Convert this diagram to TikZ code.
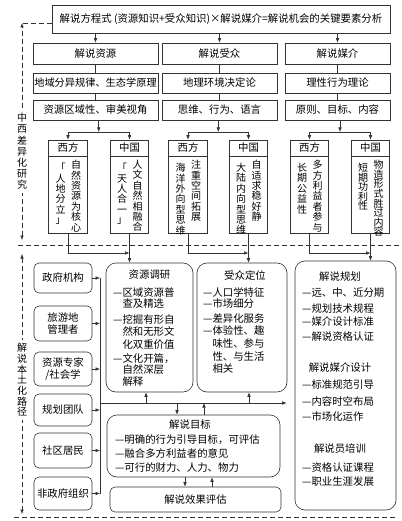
\documentclass[tikz,border=0pt]{standalone}
\usepackage{fontspec}
\setmainfont{Noto Sans CJK SC}
\usetikzlibrary{arrows.meta}
\makeatletter
\newcommand\vstk[2]{\vbox{\baselineskip=#1\relax\lineskiplimit=-20pt\lineskip=0pt\edef\vs@tmp{#2}\expandafter\vs@loop\vs@tmp\relax}}
\def\vs@loop#1{\ifx\relax#1\else\hbox to 1em{\hss#1\hss}\expandafter\vs@loop\fi}
\makeatother
\newcommand\fsz{\fontsize{10.4pt}{12.5pt}\selectfont}
\newcommand\fsl{\fontsize{10.4pt}{11.5pt}\selectfont}
\newcommand\fsv{\fontsize{10pt}{12pt}\selectfont}
\begin{document}
\begin{tikzpicture}[x=1pt,y=-1pt,
 ln/.style={draw=black!80,line width=0.6pt},
 box/.style={ln,rectangle,inner sep=0pt,font=\fsz},
 rbox/.style={box,rounded corners=10pt},
 sbox/.style={box,rounded corners=5pt},
 arr/.style={ln,-{Latex[length=4.5pt,width=3.6pt]}},
 dsh/.style={ln,dash pattern=on 5pt off 3pt},
 darr/.style={dsh,{Latex[length=4.5pt,width=3.6pt]}-{Latex[length=4.5pt,width=3.6pt]}},
 txt/.style={inner sep=0pt,font=\fsz},
 vtx/.style={inner sep=0pt,font=\fsv},
]
\fill[white] (0,0) rectangle (401,521);
\useasboundingbox (0,0) rectangle (401,521);

% top section
\node[box,minimum width=338pt,minimum height=28pt] (top) at (221,19) {解说方程式 (资源知识+受众知识)×解说媒介=解说机会的关键要素分析};

\node[box,minimum width=125pt,minimum height=21pt] (r1a) at (95.5,53.5) {解说资源};
\node[box,minimum width=115pt,minimum height=21pt] (r1b) at (219.5,53.5) {解说受众};
\node[box,minimum width=105pt,minimum height=21pt] (r1c) at (337.5,53.5) {解说媒介};
\node[box,minimum width=125pt,minimum height=20pt,font=\fontsize{10.2pt}{12pt}\selectfont] (r2a) at (95.5,83) {地域分异规律、生态学原理};
\node[box,minimum width=115pt,minimum height=20pt] (r2b) at (219.5,83) {地理环境决定论};
\node[box,minimum width=105pt,minimum height=20pt] (r2c) at (337.5,83) {理性行为理论};
\node[box,minimum width=125pt,minimum height=20pt] (r3a) at (95.5,110) {资源区域性、审美视角};
\node[box,minimum width=115pt,minimum height=20pt] (r3b) at (219.5,110) {思维、行为、语言};
\node[box,minimum width=105pt,minimum height=20pt] (r3c) at (337.5,110) {原则、目标、内容};

\foreach \c in {a,b,c}{
  \draw[arr] (top.south -| r1\c) -- (r1\c.north);
  \draw[ln] (r1\c) -- (r2\c);
  \draw[ln] (r2\c) -- (r3\c);
}

\foreach \n/\cx/\hd/\R/\L/\p in {
 1w/68/西方/自然资源为核心/「人地分立」/10.4,
 1c/129.5/中国/人文自然相融合/「天人合一」/10.4,
 2w/188/西方/注重空间拓展/海洋外向型思维/10.4,
 2c/248.5/中国/自适求稳好静/大陆内向型思维/10.4,
 3w/309.5/西方/多方利益者参与/长期公益性/10.4,
 3c/370.5/中国/物造形式胜过内容/短期功利性/9.6}{
 \node[box,minimum width=38.5pt,minimum height=16pt] (h\n) at (\cx,148) {\hd};
 \node[box,minimum width=38.5pt,minimum height=77pt] (b\n) at (\cx,194.5) {};
 \node[vtx,anchor=north] (vr\n) at (\cx+8,160) {\vstk{\p pt}{\R}};
 \node[vtx,anchor=north] (vl\n) at (\cx-7.5,163) {\vstk{\p pt}{\L}};
}

\coordinate (ja) at (98.75,132);
\coordinate (jb) at (218.25,132);
\coordinate (jc) at (340,132);
\draw[arr] (r3a.south -| ja) -- (ja);
\draw[arr] (r3b.south -| jb) -- (jb);
\draw[arr] (r3c.south -| jc) -- (jc);
\draw[ln] (h1w.north |- ja) -- (h1c.north |- ja);
\draw[ln] (h2w.north |- jb) -- (h2c.north |- jb);
\draw[ln] (h3w.north |- jc) -- (h3c.north |- jc);
\foreach \n/\j in {1w/ja,1c/ja,2w/jb,2c/jb,3w/jc,3c/jc}{
  \draw[arr] (h\n.north |- \j) -- (h\n.north);
}

% dashed frames and labels
\coordinate (tw) at ([yshift=-4pt]top.west);
\coordinate (dB) at (22,240);
\draw[dsh] (tw) -- (tw -| dB);
\draw[darr] (dB) -- (tw -| dB);
\node[vtx,fill=white,inner ysep=3pt] (lab1) at (22,151.5) {\vstk{11.2pt}{中西差异化研究}};
\coordinate (dM1) at (18,245);
\coordinate (dM2) at (401,245);
\draw[dsh] (dM1) -- (dM2);
\coordinate (dC) at (22,254);
\coordinate (dD) at (22,514);
\draw[darr] (dC) -- (dD);
\node[vtx,fill=white,inner ysep=3pt] (lab2) at (22,380) {\vstk{10.7pt}{解说本土化路径}};
\coordinate (dE) at (14,517.5);
\coordinate (dF) at (398,517.5);
\draw[dsh] (dE) -- (dF);

% bottom boxes
\node[rbox,minimum width=87pt,minimum height=129pt] (zy) at (149.5,327.5) {};
\node[rbox,minimum width=90pt,minimum height=129pt] (sz) at (242,327.5) {};
\node[rbox,minimum width=101pt,minimum height=249pt] (gh) at (345.5,385.5) {};
\node[rbox,minimum width=173pt,minimum height=62pt] (mb) at (193.5,446) {};
\node[sbox,minimum width=171pt,minimum height=25pt] (pg) at (195.5,499.5) {解说效果评估};

\node[txt] (zyt) at (149.5,275) {资源调研};
\foreach \y/\tx [count=\i] in {293/—区域资源普, 304/\phantom{—}查及精选, 320/—挖掘有形自, 332/\phantom{—}然和无形文, 344.3/\phantom{—}化双重价值, 358.3/—文化开篇，, 369.8/\phantom{—}自然深层, 381.7/\phantom{—}解释}{
  \node[txt,anchor=west] (zyl\i) at (113,\y) {\tx};}

\node[txt] (szt) at (245,276) {受众定位};
\foreach \y/\tx [count=\i] in {292.7/—人口学特征, 304/—市场细分, 318.3/—差异化服务, 330.5/—体验性、趣, 344/\phantom{—}味性、参与, 356.7/\phantom{—}性、与生活, 368.3/\phantom{—}相关}{
  \node[txt,anchor=west] (szl\i) at (203,\y) {\tx};}

\node[txt] (ght1) at (340,277) {解说规划};
\node[txt] (ght2) at (340,367.5) {解说媒介设计};
\node[txt] (ght3) at (340,449) {解说员培训};
\foreach \y/\tx [count=\i] in {293/—远、中、近分期, 308.5/—规划技术规程, 322/—媒介设计标准, 337/—解说资格认证, 385/—标准规范引导, 401.5/—内容时空布局, 417/—市场化运作, 467.5/—资格认证课程, 482/—职业生涯发展}{
  \node[txt,anchor=west] (ghl\i) at (302,\y) {\tx};}

\node[txt] (mbt) at (190,425) {解说目标};
\foreach \y/\tx [count=\i] in {440/—明确的行为引导目标，可评估, 454/—融合多方利益者的意见, 468/—可行的财力、人力、物力}{
  \node[txt,anchor=west] (mbl\i) at (115,\y) {\tx};}

% arrows into bottom boxes
\coordinate (ma) at (0,253);
\draw[arr] (b1w.south) |- (b1c.south |- ma);
\draw[arr] (b1c.south) -- (b1c.south |- zy.north);
\draw[arr] (b2w.south) |- (b2c.south |- ma);
\draw[arr] (b2c.south) -- (b2c.south |- sz.north);
\draw[arr] (b3w.south) |- (b3c.south |- ma);
\draw[arr] (b3c.south) -- (b3c.south |- gh.north);

% stakeholder boxes
\coordinate (cl) at (100,0);
\foreach \n/\cy/\h/\tx in {a/278/30/政府机构, b/323.5/35/{旅游地\\管理者}, c/369/34/{资源专家\\/社会学}, d/410/32/规划团队, e/450.5/35/社区居民, f/493.5/33/非政府组织}{
  \node[sbox,align=center,font=\fsl,minimum width=58pt,minimum height=\h pt] (lb\n) at (63,\cy) {\tx};
  \draw[arr] (lb\n.east) -- (lb\n.east -| cl);
}
\draw[ln] (lba.east -| cl) -- (lbf.east -| cl);
\coordinate (hl) at (100,403);
\draw[arr,shorten >=8pt] (hl) -- (hl -| gh.west);
\coordinate (u1) at ([xshift=-3.5pt]zy.south);
\coordinate (u2) at ([xshift=7pt]sz.south);
\coordinate (u3) at ([xshift=-16.5pt]mb.north);
\coordinate (u4) at ([xshift=10.5pt]mb.north);
\coordinate (u5) at ([xshift=-8.5pt]mb.south);
\coordinate (u6) at ([xshift=16.5pt]pg.north);
\draw[arr] (u1 |- hl) -- (u1);
\draw[arr] (u2 |- hl) -- (u2);
\draw[arr] (u3 |- hl) -- (u3);
\draw[arr] (u4) -- (u4 |- hl);
\draw[arr] (u5) -- (u5 |- pg.north);
\draw[arr] (u6) -- (u6 |- mb.south);
\end{tikzpicture}
\end{document}
